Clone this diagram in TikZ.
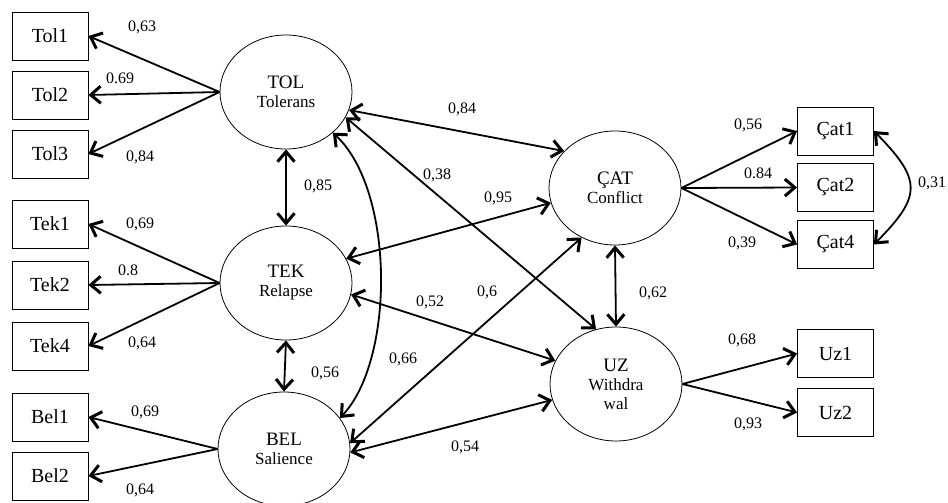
\documentclass[tikz,border=0pt]{standalone}
\usepackage{fontspec}
\setmainfont{Liberation Serif}
\usetikzlibrary{shapes.geometric,arrows.meta}
\tikzset{
  lat/.style={ellipse, draw, line width=0.8pt, minimum width=132pt, minimum height=114pt, inner sep=0pt, align=center, font=\fontsize{17}{19}\selectfont},
  obs/.style={rectangle, draw, line width=0.8pt, minimum width=76pt, minimum height=48pt, inner sep=0pt, font=\fontsize{20}{22}\selectfont},
  lbl/.style={font=\fontsize{16}{18}\selectfont, inner sep=0pt},
  tipb/.tip={Straight Barb[length=10pt,width=17pt,line width=3pt]},
  arr/.style={line width=1.8pt, -tipb},
  darr/.style={line width=1.8pt, tipb-tipb},
}
\newcommand{\lone}[1]{{\fontsize{19}{20}\selectfont #1}}
\begin{document}
\begin{tikzpicture}[x=1pt,y=-1pt]
\useasboundingbox (0,0) rectangle (948,503);
% latent
\node[lat] (tol) at (286,92) {\lone{TOL}\\Tolerans};
\node[lat] (tek) at (286,283) {\lone{TEK}\\Relapse};
\node[lat] (bel) at (284,449) {\lone{BEL}\\Salience};
\node[lat] (cat) at (615,188) {\lone{ÇAT}\\Conflict};
\node[lat] (uz) at (616,384) {\lone{UZ}\\Withdra\\wal};
% observed
\node[obs] (tol1) at (50,36) {Tol1};
\node[obs] (tol2) at (50,95) {Tol2};
\node[obs] (tol3) at (50,154) {Tol3};
\node[obs] (tek1) at (50,224) {Tek1};
\node[obs] (tek2) at (50,285) {Tek2};
\node[obs] (tek4) at (50,346) {Tek4};
\node[obs] (bel1) at (50,417) {Bel1};
\node[obs] (bel2) at (50,476) {Bel2};
\node[obs] (cat1) at (835.5,131) {Çat1};
\node[obs] (cat2) at (835.5,187.5) {Çat2};
\node[obs] (cat4) at (835.5,244.5) {Çat4};
\node[obs] (uz1) at (835.5,353.5) {Uz1};
\node[obs] (uz2) at (835.5,412.5) {Uz2};
% loadings
\draw[arr] (tol.west) -- (tol1.east);
\draw[arr] (tol.west) -- (tol2.east);
\draw[arr] (tol.west) -- (tol3.east);
\draw[arr] (tek.west) -- (tek1.east);
\draw[arr] (tek.west) -- (tek2.east);
\draw[arr] (tek.west) -- (tek4.east);
\draw[arr] (bel.west) -- (bel1.east);
\draw[arr] (bel.west) -- (bel2.east);
\draw[arr] (cat.east) -- (cat1.west);
\draw[arr] (cat.east) -- (cat2.west);
\draw[arr] (cat.east) -- (cat4.west);
\draw[arr] (uz.east) -- (uz1.west);
\draw[arr] (uz.east) -- (uz2.west);
% correlations
\draw[darr] (tol.south) -- (tek.north);
\draw[darr] (tek.south) -- (bel.north);
\draw[darr] (tol.-16) -- (cat.144);
\draw[darr] (tol.-23) -- (uz.110);
\draw[darr] (tol.-41) .. controls (395,190) and (395,360) .. (bel.29);
\draw[darr] (tek.22) -- (cat.193);
\draw[darr] (tek.-10) -- (uz.159);
\draw[darr] (bel.5) -- (cat.236);
\draw[darr] (bel.-3) -- (uz.194);
\draw[darr] (cat.south) -- (uz.north);
\draw[darr] (cat1.east) .. controls (922,180) and (922,196) .. (cat4.east);
% labels
\node[lbl] (l1) at (142,27) {0,63};
\node[lbl] (l2) at (120,78) {0.69};
\node[lbl] (l3) at (140,157) {0,84};
\node[lbl] (l4) at (140,224) {0,69};
\node[lbl] (l5) at (128,270) {0.8};
\node[lbl] (l6) at (142,343) {0,64};
\node[lbl] (l7) at (145,412) {0,69};
\node[lbl] (l8) at (140,490) {0,64};
\node[lbl] (l9) at (318,186) {0,85};
\node[lbl] (l10) at (462,109) {0,84};
\node[lbl] (l11) at (437,175) {0,38};
\node[lbl] (l12) at (498,198) {0,95};
\node[lbl] (l13) at (430,302) {0,52};
\node[lbl] (l14) at (487,292) {0,6};
\node[lbl] (l15) at (403,359) {0,66};
\node[lbl] (l16) at (325,373) {0,56};
\node[lbl] (l17) at (465,447) {0,54};
\node[lbl] (l18) at (653,293) {0,62};
\node[lbl] (l19) at (748,125) {0,56};
\node[lbl] (l20) at (758,173) {0.84};
\node[lbl] (l21) at (742,243) {0,39};
\node[lbl] (l22) at (932,183) {0,31};
\node[lbl] (l23) at (742,340) {0,68};
\node[lbl] (l24) at (748,424) {0,93};
\end{tikzpicture}
\end{document}
